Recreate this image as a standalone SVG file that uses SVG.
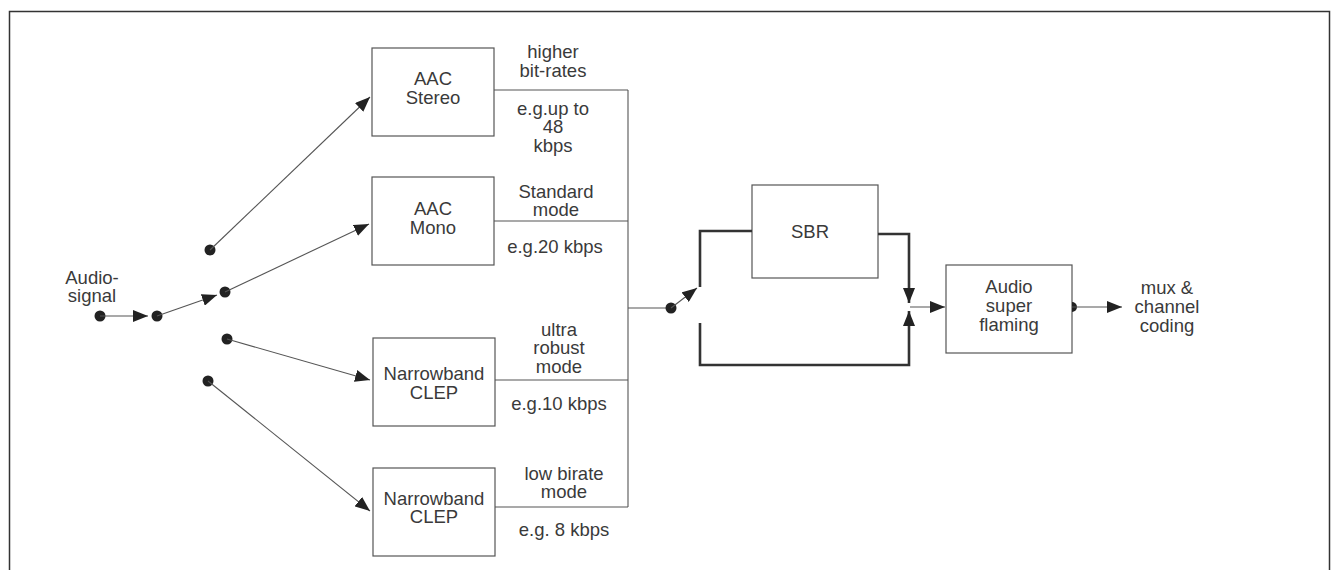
<svg xmlns="http://www.w3.org/2000/svg" width="1334" height="570" viewBox="0 0 1334 570">
<style>
text{font-family:"Liberation Sans",Arial,sans-serif;font-size:18.5px;fill:#3a3a3a;text-anchor:middle}
.box{fill:none;stroke:#555;stroke-width:1.2}
.ln{fill:none;stroke:#555;stroke-width:1.1}
.thick{fill:none;stroke:#333;stroke-width:2.6}
.dot{fill:#222}
</style>
<defs>
<marker id="ah" markerUnits="userSpaceOnUse" markerWidth="16" markerHeight="12" refX="15" refY="6" orient="auto">
<path d="M0,0 L15,6 L0,12 z" fill="#222"/>
</marker>
</defs>
<rect width="1334" height="570" fill="#fff"/>
<rect x="9.5" y="11.5" width="1320" height="600" fill="none" stroke="#333" stroke-width="1.5"/>

<g id="audio-signal">
<text x="92" y="284">Audio-</text>
<text x="92" y="302">signal</text>
</g>
<g id="aac-stereo">
<rect class="box" x="372" y="48" width="122" height="88"/>
<text x="433" y="85">AAC</text>
<text x="433" y="104">Stereo</text>
</g>
<g id="aac-mono">
<rect class="box" x="372" y="177" width="122" height="88"/>
<text x="433" y="215">AAC</text>
<text x="433" y="234">Mono</text>
</g>
<g id="clep1">
<rect class="box" x="373" y="338" width="122" height="88"/>
<text x="434" y="380">Narrowband</text>
<text x="434" y="399">CLEP</text>
</g>
<g id="clep2">
<rect class="box" x="373" y="468" width="122" height="88"/>
<text x="434" y="505">Narrowband</text>
<text x="434" y="523">CLEP</text>
</g>
<g id="sbr">
<rect class="box" x="752" y="185" width="126" height="93"/>
<text x="810" y="238">SBR</text>
</g>
<g id="super-framing">
<rect class="box" x="946" y="265" width="126" height="88"/>
<text x="1009" y="293">Audio</text>
<text x="1009" y="312">super</text>
<text x="1009" y="331">flaming</text>
</g>
<g id="mux">
<text x="1167" y="294">mux &amp;</text>
<text x="1167" y="313">channel</text>
<text x="1167" y="332">coding</text>
</g>

<g id="labels">
<text x="553" y="58">higher</text>
<text x="553" y="77">bit-rates</text>
<text x="553" y="115">e.g.up to</text>
<text x="553" y="133">48</text>
<text x="553" y="152">kbps</text>
<text x="556" y="198">Standard</text>
<text x="556" y="216">mode</text>
<text x="555" y="253">e.g.20 kbps</text>
<text x="559" y="336">ultra</text>
<text x="559" y="354">robust</text>
<text x="559" y="373">mode</text>
<text x="559" y="410">e.g.10 kbps</text>
<text x="564" y="480">low birate</text>
<text x="564" y="498">mode</text>
<text x="564" y="536">e.g. 8 kbps</text>
</g>

<g id="connectors">
<circle class="dot" cx="100" cy="316" r="5.5"/>
<line class="ln" x1="100" y1="316" x2="148" y2="316" marker-end="url(#ah)"/>
<circle class="dot" cx="157" cy="316" r="5.5"/>
<line class="ln" x1="157" y1="316" x2="217" y2="295" marker-end="url(#ah)"/>
<circle class="dot" cx="225" cy="292" r="5.5"/>
<line class="ln" x1="225" y1="292" x2="369" y2="224" marker-end="url(#ah)"/>
<circle class="dot" cx="210" cy="250" r="5.5"/>
<line class="ln" x1="210" y1="250" x2="370" y2="97" marker-end="url(#ah)"/>
<circle class="dot" cx="227" cy="339" r="5.5"/>
<line class="ln" x1="227" y1="339" x2="370" y2="380" marker-end="url(#ah)"/>
<circle class="dot" cx="208" cy="381" r="5.5"/>
<line class="ln" x1="208" y1="381" x2="370" y2="511" marker-end="url(#ah)"/>

<line class="ln" x1="494" y1="90" x2="628" y2="90"/>
<line class="ln" x1="494" y1="221" x2="628" y2="221"/>
<line class="ln" x1="495" y1="380" x2="628" y2="380"/>
<line class="ln" x1="495" y1="507" x2="628" y2="507"/>
<line class="ln" x1="628" y1="90" x2="628" y2="507"/>
<line class="ln" x1="628" y1="308" x2="671" y2="308"/>
<circle class="dot" cx="671" cy="308" r="5.5"/>
<line class="ln" x1="671" y1="308" x2="697" y2="288" marker-end="url(#ah)"/>

<path class="thick" d="M752,231 H700 V287"/>
<path class="thick" d="M700,323 V365 H909 V311" marker-end="url(#ah)"/>
<path class="thick" d="M878,234 H909 V303" marker-end="url(#ah)"/>
<line class="ln" x1="910" y1="307" x2="945" y2="307" marker-end="url(#ah)"/>

<path class="dot" d="M1072,302 A5,5 0 0 1 1072,312 z"/>
<line class="ln" x1="1072" y1="307" x2="1122" y2="307" marker-end="url(#ah)"/>
</g>
</svg>
